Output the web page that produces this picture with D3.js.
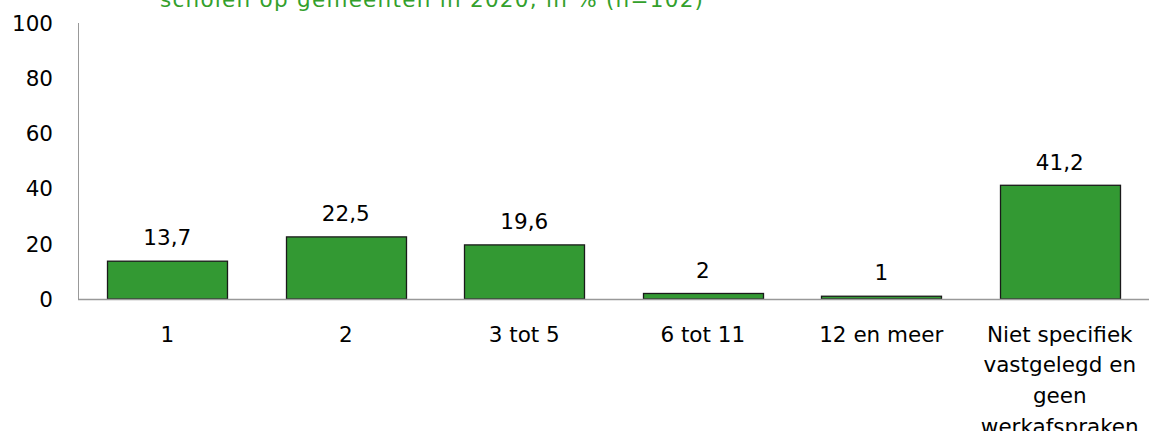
<!DOCTYPE html>
<html><head><meta charset="utf-8">
<script src="https://cdn.jsdelivr.net/npm/d3@7"></script>
<style>body{margin:0;background:#fff}svg{display:block}text{font-family:"DejaVu Sans",Verdana,sans-serif}</style>
</head><body><svg id="c" width="1152" height="431"></svg>
<script>
const categories = [["1"],["2"],["3 tot 5"],["6 tot 11"],["12 en meer"],["Niet specifiek","vastgelegd en","geen","werkafspraken"]];
const values = [13.7, 22.5, 19.6, 2, 1, 41.2];
const valueLabels = ["13,7","22,5","19,6","2","1","41,2"];
const yTicks = [0,20,40,60,80,100];
const title = "scholen op gemeenten in 2020, in % (n=102)";

const svg = d3.select("#c");
const x = d3.scaleBand().domain(d3.range(values.length)).range([78,1149]).paddingInner(0.33).paddingOuter(0.165);
const y = d3.scaleLinear().domain([0,100]).range([299,23]);
const fs = 21.5;

svg.append("text").attr("x",160).attr("y",7).attr("fill","#33a02c").attr("font-size",fs)
  .attr("textLength",543).attr("lengthAdjust","spacing").text(title);

svg.selectAll("text.yt").data(yTicks).enter().append("text").attr("class","yt")
  .attr("x",53).attr("y",d=>y(d)).attr("dy","0.36em").attr("text-anchor","end")
  .attr("font-size",fs).attr("fill","#000").text(d=>d);

svg.append("line").attr("x1",78.5).attr("x2",78.5).attr("y1",y(100)).attr("y2",y(0)).attr("stroke","#999");

svg.selectAll("rect.bar").data(values).enter().append("rect").attr("class","bar")
  .attr("x",(d,i)=>Math.round(x(i))+0.5).attr("width",Math.round(x.bandwidth()))
  .attr("y",d=>y(d)).attr("height",d=>y(0)-y(d))
  .attr("fill","#339933").attr("stroke","#1a1a1a").attr("stroke-width",1.3);

svg.append("line").attr("x1",78).attr("x2",1149).attr("y1",299.5).attr("y2",299.5).attr("stroke","#999").attr("stroke-width",1.5);

svg.selectAll("text.vl").data(values).enter().append("text").attr("class","vl")
  .attr("x",(d,i)=>x(i)+x.bandwidth()/2).attr("y",d=>y(d)-23.5).attr("dy","0.36em")
  .attr("text-anchor","middle").attr("font-size",fs).attr("fill","#000").text((d,i)=>valueLabels[i]);

const xl = svg.selectAll("g.xl").data(categories).enter().append("g").attr("class","xl");
xl.each(function(lines,i){
  d3.select(this).selectAll("text").data(lines).enter().append("text")
    .attr("x",x(i)+x.bandwidth()/2).attr("y",(d,j)=>334+j*30.7).attr("dy","0.36em")
    .attr("text-anchor","middle").attr("font-size",fs).attr("fill","#000").text(d=>d);
});
</script></body></html>
